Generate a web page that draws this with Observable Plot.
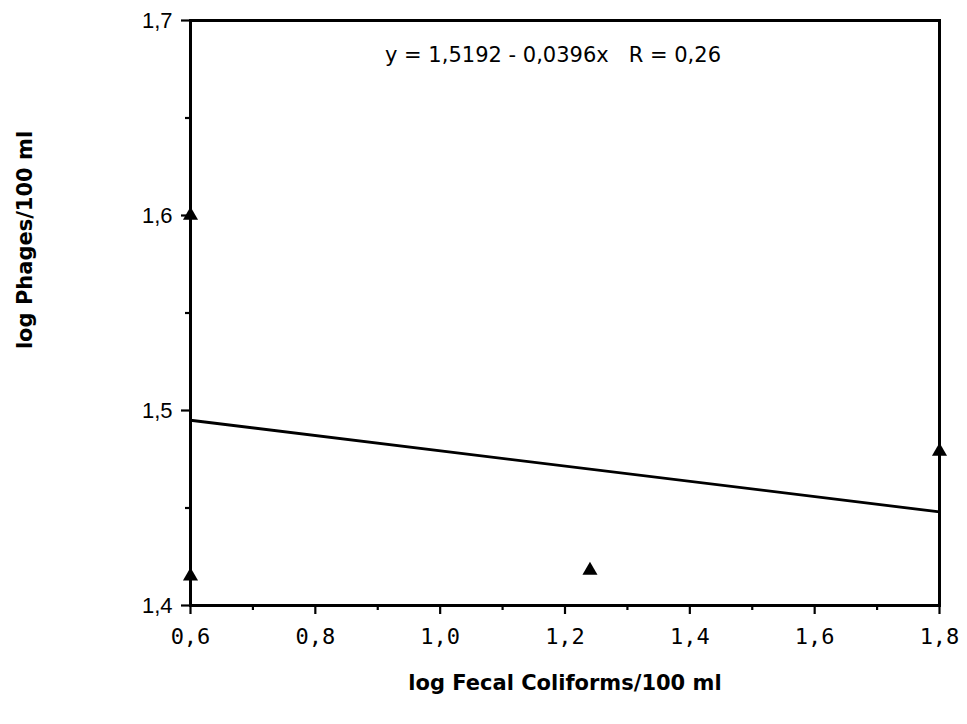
<!DOCTYPE html>
<html>
<head>
<meta charset="utf-8">
<script src="https://cdn.jsdelivr.net/npm/d3@7"></script>
<script src="https://cdn.jsdelivr.net/npm/@observablehq/plot@0.6"></script>
<style>
  html, body { margin: 0; padding: 0; background: #fff; }
  svg text { white-space: pre; }
</style>
</head>
<body>
<div id="chart"></div>
<script>
// ---- data ----
const xTicks = [0.6, 0.8, 1.0, 1.2, 1.4, 1.6, 1.8];
const xTickLabels = ["0,6", "0,8", "1,0", "1,2", "1,4", "1,6", "1,8"];
const xMinorTicks = [0.7, 0.9, 1.1, 1.3, 1.5, 1.7];
const yTicks = [1.4, 1.5, 1.6, 1.7];
const yTickLabels = ["1,4", "1,5", "1,6", "1,7"];
const yMinorTicks = [1.45, 1.55, 1.65];
const pointX = [0.6, 0.6, 1.24, 1.8];
const pointY = [1.6, 1.415, 1.418, 1.479];
const fitX = [0.6, 1.8];
const fitY = [1.495, 1.448];
const equationText = "y = 1,5192 - 0,0396x   R = 0,26";
const xLabel = "log Fecal Coliforms/100 ml";
const yLabel = "log Phages/100 ml";

const points = pointX.map((x, i) => ({x, y: pointY[i]}));
const fit = fitX.map((x, i) => ({x, y: fitY[i]}));
const xLab = new Map(xTicks.map((t, i) => [t, xTickLabels[i]]));
const yLab = new Map(yTicks.map((t, i) => [t, yTickLabels[i]]));

const chart = Plot.plot({
  width: 967,
  height: 724,
  marginLeft: 190,
  marginRight: 28,
  marginTop: 20,
  marginBottom: 119,
  style: {background: "#fff", color: "#000"},
  x: {domain: [0.6, 1.8]},
  y: {domain: [1.4, 1.7]},
  marks: [
    Plot.axisX(xTicks, {
      tickSize: 9, tickPadding: 14, strokeWidth: 2.2,
      tickFormat: d => xLab.get(d),
      fontFamily: "DejaVu Sans Mono", fontSize: 22, label: null
    }),
    Plot.axisX(xMinorTicks, {tickSize: 5, strokeWidth: 2.2, tickFormat: () => "", label: null}),
    Plot.axisY(yTicks, {
      tickSize: 9, tickPadding: 9, strokeWidth: 2.2,
      tickFormat: d => yLab.get(d),
      fontFamily: "Liberation Sans", fontSize: 22, label: null
    }),
    Plot.axisY(yMinorTicks, {tickSize: 5, strokeWidth: 2.2, tickFormat: () => "", label: null}),
    Plot.frame({stroke: "#000", strokeWidth: 3}),
    Plot.line(fit, {x: "x", y: "y", stroke: "#000", strokeWidth: 2.8}),
    Plot.dot(points, {x: "x", y: "y", symbol: "triangle", fill: "#000", stroke: "none", r: 5.6}),
    Plot.text([equationText], {
      frameAnchor: "top", lineAnchor: "middle", dx: -12, dy: 35,
      text: d => d, fontFamily: "DejaVu Sans", fontSize: 21, fill: "#000"
    }),
    Plot.text([xLabel], {
      frameAnchor: "bottom", lineAnchor: "middle", dy: 78,
      text: d => d, fontFamily: "DejaVu Sans", fontWeight: "bold", fontSize: 21, fill: "#000"
    }),
    Plot.text([yLabel], {
      frameAnchor: "left", textAnchor: "middle", lineAnchor: "middle", rotate: -90, dx: -165, dy: -73,
      text: d => d, fontFamily: "DejaVu Sans", fontWeight: "bold", fontSize: 21, fill: "#000"
    })
  ]
});
// style tweaks on the axis groups Plot produced
const s = d3.select(chart);
s.selectAll('g[aria-label="y-axis tick label"]')
  .attr("font-size", 22).attr("font-family", "Liberation Sans")
  .selectAll("text").attr("font-size", 22).attr("font-family", "Liberation Sans");
s.selectAll('g[aria-label="x-axis tick label"]')
  .attr("font-size", 22).attr("font-family", "DejaVu Sans Mono");
s.selectAll('g[aria-label="x-axis tick"], g[aria-label="y-axis tick"]')
  .attr("stroke-width", 2.2).selectAll("path").attr("stroke-width", 2.2);
document.getElementById("chart").appendChild(chart);
</script>
</body>
</html>
